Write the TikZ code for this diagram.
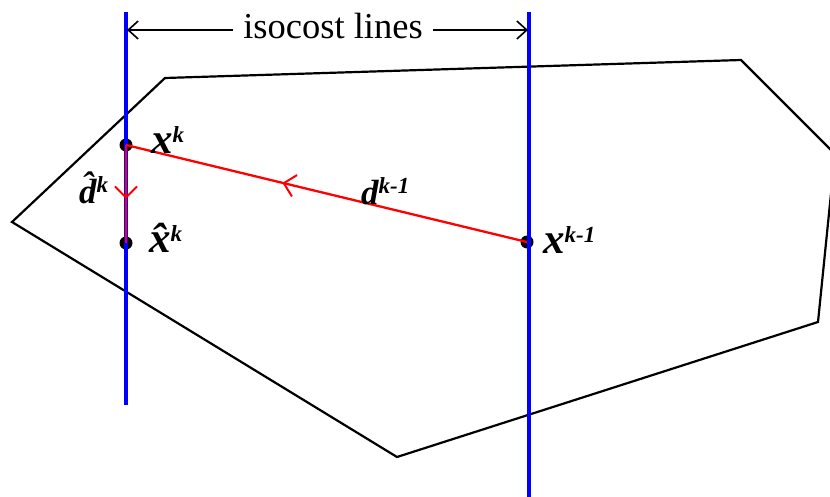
\documentclass[tikz,border=0pt]{standalone}
\usepackage{fontspec}
\setmainfont{Liberation Serif}
\usetikzlibrary{arrows.meta, decorations.markings}

\newcommand\supk[1]{\raisebox{11pt}{\fontsize{23}{25}\selectfont #1}}

\begin{document}
\begin{tikzpicture}[x=1pt, y=-1pt,
    iso/.style={blue, line width=3.2pt},
    dir/.style={red, line width=2.3pt},
    dimarr/.style={-{Straight Barb[length=10pt, width=18pt, line width=1.6pt]}, line width=1.6pt},
    lab/.style={font=\fontsize{43}{45}\selectfont\bfseries\itshape, inner sep=0pt, anchor=base west},
    labd/.style={font=\fontsize{35}{38}\selectfont\bfseries\itshape, inner sep=0pt, anchor=base west},
    mid/.style={postaction={decorate}, decoration={markings,
        mark=at position #1 with {\arrow{Straight Barb[length=11pt, width=22pt, line width=2pt]}}}},
]
\useasboundingbox (0,0) rectangle (830,497);

% Feasible region
\begin{scope}
    \clip (0,0) rectangle (830,497);
    \draw[line width=2.2pt, line join=miter]
        (12,222) -- (165,78) -- (741,60) -- (835,154) -- (818,322) -- (397,457) -- cycle;
\end{scope}

% Points
\coordinate (xk) at (126,145);
\coordinate (xh) at (126,243);
\coordinate (xk1) at (527,242);
\fill (xk) circle (6.5);
\fill (xh) circle (6.5);
\fill (xk1) circle (6.5);

% Isocost lines
\coordinate (iso1a) at (126,12);
\coordinate (iso1b) at (126,405);
\coordinate (iso2a) at (529,12);
\coordinate (iso2b) at (529,497);
\draw[iso] (iso1a) -- (iso1b);
\draw[iso] (iso2a) -- (iso2b);

\node[font=\fontsize{36.5}{40}\selectfont, inner xsep=10pt] (isolab) at (333,26) {isocost lines};
\coordinate (t1) at (127,30);
\coordinate (t2) at (528,30);
\draw[dimarr] (isolab.west |- t1) -- (t1);
\draw[dimarr] (isolab.east |- t2) -- (t2);

% Directions
\draw[dir, mid=0.61] (xk1) -- (xk);
\draw[dir, mid=0.55] (xk) -- (xh);

% Labels
\node[lab] (lxk) at (151,154) {x\supk{k}};
\node[lab] (lxh) at (149,252) {\^x\supk{k}};
\node[lab] (lxk1) at (543,254) {x\supk{k-1}};
\node[labd] (ldh) at (79,204) {\^d\supk{k}};
\node[labd] (ld) at (361,205) {d\supk{k-1}};
\end{tikzpicture}
\end{document}
